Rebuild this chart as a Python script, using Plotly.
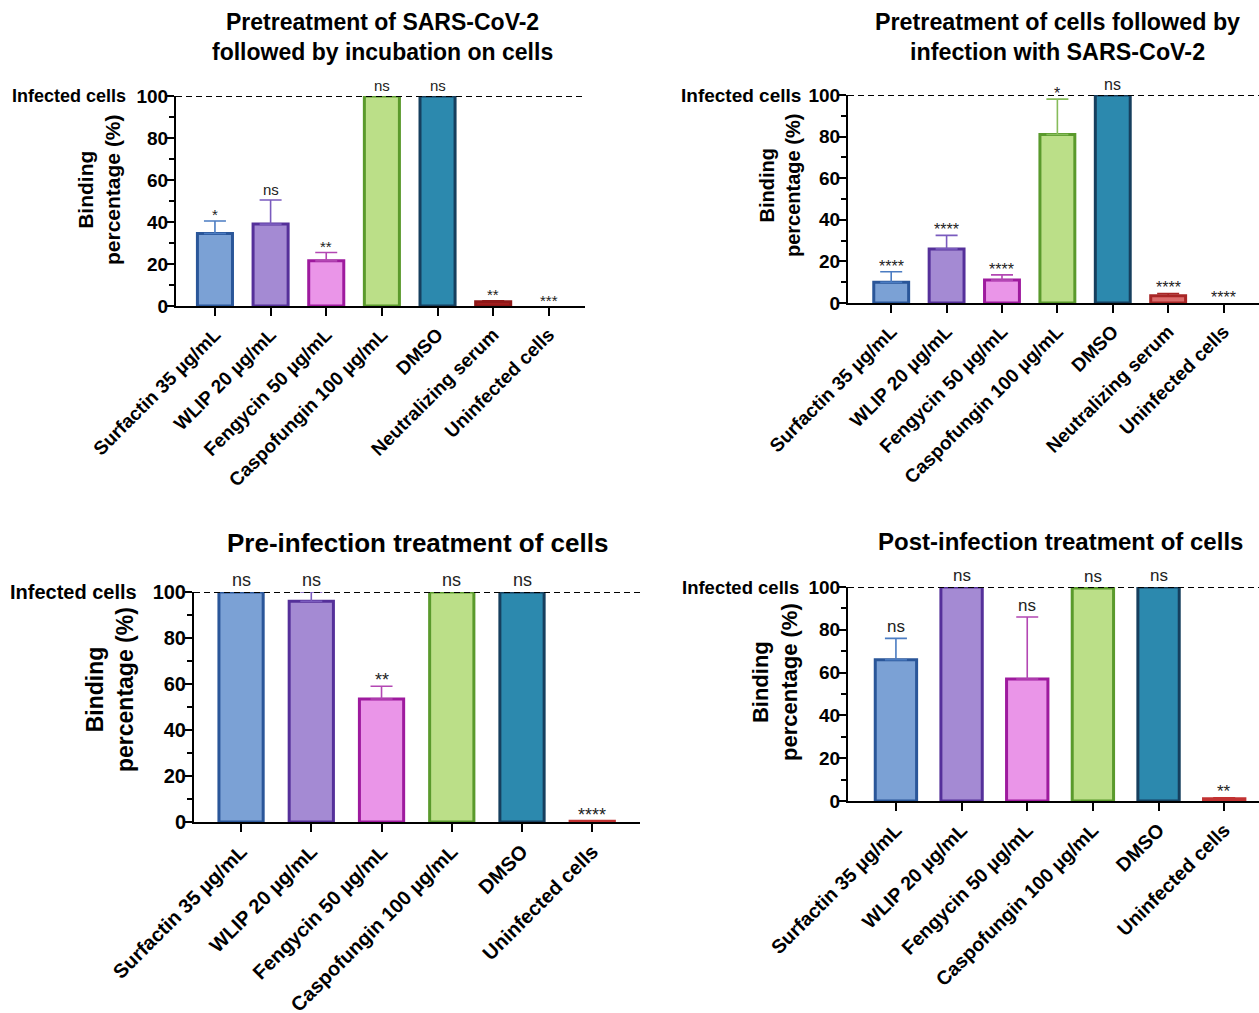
import plotly.graph_objects as go

W, H = 1259, 1013

# ---- data -------------------------------------------------------------
cats_a = ["Surfactin 35 µg/mL", "WLIP 20 µg/mL", "Fengycin 50 µg/mL",
          "Caspofungin 100 µg/mL", "DMSO", "Neutralizing serum", "Uninfected cells"]
cats_b = ["Surfactin 35 µg/mL", "WLIP 20 µg/mL", "Fengycin 50 µg/mL",
          "Caspofungin 100 µg/mL", "DMSO", "Uninfected cells"]

vals_1 = [34.5, 39.0, 21.5, 100, 100, 2.0, 0]
err_1 = [6.0, 11.5, 4.0, 0, 0, 0.5, 0]
sig_1 = ["*", "ns", "**", "ns", "ns", "**", "***"]

vals_2 = [10.0, 26.0, 11.0, 81.0, 100, 3.5, 0]
err_2 = [5.0, 6.5, 2.5, 17.0, 0, 1.0, 0]
sig_2 = ["****", "****", "****", "*", "ns", "****", "****"]

vals_3 = [100, 96.0, 53.5, 100, 100, 0.3]
err_3 = [0, 4.0, 5.5, 0, 0, 0]
sig_3 = ["ns", "ns", "**", "ns", "ns", "****"]

vals_4 = [66.0, 100, 57.0, 99.5, 100, 1.0]
err_4 = [10.0, 0, 29.0, 0, 0, 0.5]
sig_4 = ["ns", "ns", "ns", "ns", "ns", "**"]

titles = ["Pretreatment of SARS-CoV-2<br>followed by incubation on cells",
          "Pretreatment of cells followed by<br>infection with SARS-CoV-2",
          "Pre-infection treatment of cells",
          "Post-infection treatment of cells"]

# fill, outline, error-bar colour per treatment
palette = {
    "Surfactin 35 µg/mL": ("#7BA1D5", "#2A5699", "#4B7CC2"),
    "WLIP 20 µg/mL": ("#A48AD3", "#55309A", "#7A5BBE"),
    "Fengycin 50 µg/mL": ("#EA95E8", "#9E1A9E", "#B347B3"),
    "Caspofungin 100 µg/mL": ("#BBDF88", "#5A9A2C", "#86BC5A"),
    "DMSO": ("#2C89AE", "#163F5E", "#163F5E"),
    "Neutralizing serum": ("#DB6B6B", "#A82626", "#A82626"),
    "Uninfected cells": ("#DB6B6B", "#C23232", "#C23232"),
}
# the serum control of the first assay is drawn in a darker red
serum_dark = ("#A81F1F", "#8E1818", "#8E1818")

FONT = "Arial, Liberation Sans, sans-serif"

# panel geometry in pixels: axis left/right, y of 100 and 0, category range
panels = [
    dict(cats=cats_a, vals=vals_1, err=err_1, sig=sig_1, title=titles[0],
         px0=176, px1=585, ytop=96, ybot=306, xr=[-0.7, 6.65],
         tick=19, xtick=19, ytitle=21, sigf=15, ttl=23, inf=18,
         ttl_xy=(382, 37), yt_xy=(99, 190), inf_shift=-48, dark_serum=True),
    dict(cats=cats_a, vals=vals_2, err=err_2, sig=sig_2, title=titles[1],
         px0=848, px1=1259, ytop=95, ybot=303, xr=[-0.78, 6.64],
         tick=19, xtick=19, ytitle=20, sigf=16, ttl=23.3, inf=19,
         ttl_xy=(1057, 37), yt_xy=(780, 186), inf_shift=-45, dark_serum=False),
    dict(cats=cats_b, vals=vals_3, err=err_3, sig=sig_3, title=titles[2],
         px0=194, px1=640, ytop=592, ybot=822, xr=[-0.67, 5.68],
         tick=20, xtick=20, ytitle=23, sigf=18, ttl=26, inf=20,
         ttl_xy=(417, 543), yt_xy=(110, 690), inf_shift=-55, dark_serum=False),
    dict(cats=cats_b, vals=vals_4, err=err_4, sig=sig_4, title=titles[3],
         px0=848, px1=1259, ytop=587, ybot=801, xr=[-0.73, 5.53],
         tick=19, xtick=19.5, ytitle=22, sigf=17, ttl=24, inf=18.5,
         ttl_xy=(1060, 541), yt_xy=(775, 682), inf_shift=-47, dark_serum=False),
]

fig = go.Figure()
annotations = []
shapes = []

for i, p in enumerate(panels, start=1):
    xa = "x" if i == 1 else f"x{i}"
    ya = "y" if i == 1 else f"y{i}"
    cats = p["cats"]
    cols = [serum_dark if (c == "Neutralizing serum" and p["dark_serum"]) else palette[c]
            for c in cats]
    fills = [c[0] for c in cols]
    lines = [c[1] for c in cols]
    errc = [c[2] for c in cols]
    lw = [3 if v > 0 else 0 for v in p["vals"]]

    # bars
    fig.add_trace(go.Bar(
        x=cats, y=p["vals"], xaxis=xa, yaxis=ya, width=0.63,
        marker=dict(color=fills, line=dict(color=lines, width=lw)),
        cliponaxis=False, showlegend=False, hoverinfo="skip",
    ))
    # upward-only error bars, one per bar so each takes its own colour
    for c, v, e, ec in zip(cats, p["vals"], p["err"], errc):
        if e > 0:
            fig.add_trace(go.Scatter(
                x=[c], y=[v], xaxis=xa, yaxis=ya, mode="markers",
                marker=dict(size=0.1, color="rgba(0,0,0,0)"),
                error_y=dict(type="data", array=[e], arrayminus=[0],
                             symmetric=False, color=ec, thickness=1.6, width=11),
                cliponaxis=False, showlegend=False, hoverinfo="skip",
            ))

    xdom = [p["px0"] / W, min(p["px1"] / W, 1.0)]
    ydom = [1 - p["ybot"] / H, 1 - p["ytop"] / H]
    axis_common = dict(showline=True, linecolor="black", linewidth=2,
                       ticks="outside", tickcolor="black", tickwidth=2,
                       showgrid=False, zeroline=False, automargin=False)
    fig.update_layout(**{
        ("xaxis" if i == 1 else f"xaxis{i}"): dict(
            domain=xdom, anchor=ya, range=p["xr"], type="category",
            ticklen=8, tickangle=-45,
            tickfont=dict(family=FONT, size=p["xtick"], color="black", weight="bold"),
            **axis_common),
        ("yaxis" if i == 1 else f"yaxis{i}"): dict(
            domain=ydom, anchor=xa, range=[0, 100], tickvals=[0, 20, 40, 60, 80, 100],
            ticklen=7, ticklabelstandoff=-5,
            minor=dict(tickvals=[10, 30, 50, 70, 90], ticks="outside", ticklen=5,
                       tickwidth=2, tickcolor="black"),
            tickfont=dict(family=FONT, size=p["tick"], color="black", weight="bold"),
            **axis_common),
    })

    # reference line for infected cells
    shapes.append(dict(type="line", xref=f"{xa} domain", yref=ya,
                       x0=0, x1=1, y0=100, y1=100, layer="above",
                       line=dict(color="black", width=2, dash="6px,4px")))
    annotations.append(dict(text="<b>Infected cells</b>", xref=f"{xa} domain", yref=ya,
                            x=0, y=100, xanchor="right", yanchor="middle",
                            xshift=p["inf_shift"], showarrow=False,
                            font=dict(family=FONT, size=p["inf"], color="black")))

    # significance labels above each bar / error bar
    for c, v, e, s in zip(cats, p["vals"], p["err"], p["sig"]):
        shift = -p["sigf"] * 0.3 if "*" in s else 0
        annotations.append(dict(text=s, x=c, y=v + e, xref=xa, yref=ya,
                                xanchor="center", yanchor="bottom", yshift=shift,
                                showarrow=False,
                                font=dict(family=FONT, size=p["sigf"], color="#222222")))

    # panel title
    tx, ty = p["ttl_xy"]
    annotations.append(dict(text=f"<b>{p['title']}</b>", xref="paper", yref="paper",
                            x=tx / W, y=1 - ty / H, xanchor="center", yanchor="middle",
                            showarrow=False, align="center",
                            font=dict(family=FONT, size=p["ttl"], color="black")))
    # y-axis title
    yx, yy = p["yt_xy"]
    annotations.append(dict(text="<b>Binding<br>percentage (%)</b>", xref="paper", yref="paper",
                            x=yx / W, y=1 - yy / H, xanchor="center", yanchor="middle",
                            textangle=-90, showarrow=False, align="center",
                            font=dict(family=FONT, size=p["ytitle"], color="black")))

fig.update_layout(width=W, height=H, margin=dict(l=0, r=0, t=0, b=0),
                  paper_bgcolor="white", plot_bgcolor="white",
                  annotations=annotations, shapes=shapes, bargap=0.37)

fig.write_html("out.html")
